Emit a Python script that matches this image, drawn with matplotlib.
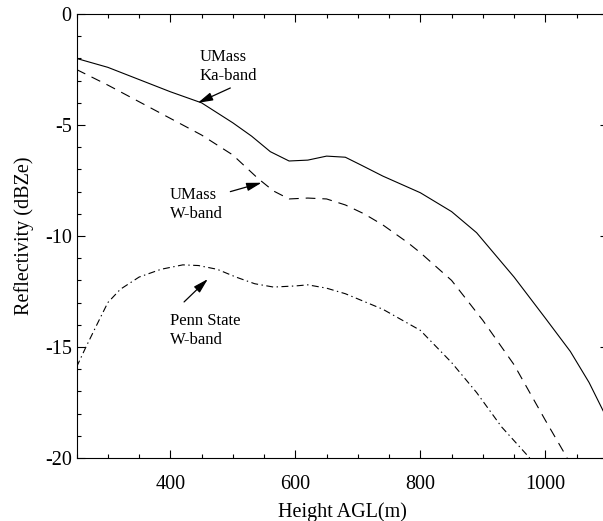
import matplotlib
matplotlib.use("Agg")
import matplotlib.pyplot as plt
from matplotlib.ticker import MultipleLocator

plt.rcParams['font.family'] = ['Liberation Serif', 'DejaVu Serif']
plt.rcParams['axes.unicode_minus'] = False
plt.rcParams['lines.scale_dashes'] = False

# UMass Ka-band (solid)
ka_h = [250, 300, 350, 400, 450, 500, 530, 560, 590, 620, 650, 680, 705, 740,
        800, 850, 890, 950, 1000, 1040, 1070, 1100]
ka_z = [-2.0, -2.4, -2.95, -3.5, -4.0, -4.9, -5.5, -6.2, -6.62, -6.58, -6.4, -6.45,
        -6.8, -7.3, -8.05, -8.9, -9.85, -11.85, -13.7, -15.2, -16.6, -18.3]

# UMass W-band (dashed)
uw_h = [250, 300, 350, 400, 450, 500, 540, 565, 590, 620, 650, 680, 710, 740,
        780, 800, 850, 900, 950, 1000, 1035]
uw_z = [-2.5, -3.2, -3.95, -4.7, -5.45, -6.35, -7.4, -7.97, -8.33, -8.29, -8.33,
        -8.6, -9.0, -9.5, -10.3, -10.75, -12.0, -13.8, -15.8, -18.3, -20.0]

# Penn State W-band (dash-dot)
ps_h = [250, 265, 285, 300, 320, 350, 385, 420, 445, 475, 505, 535, 565, 600,
        620, 650, 680, 740, 800, 850, 890, 930, 975]
ps_z = [-15.9, -15.0, -13.85, -13.0, -12.4, -11.85, -11.5, -11.3, -11.33, -11.5,
        -11.85, -12.15, -12.3, -12.25, -12.2, -12.35, -12.6, -13.3, -14.25, -15.7,
        -17.05, -18.6, -20.0]

fig = plt.figure(figsize=(6.03, 5.21), dpi=100)
ax = fig.add_axes([0.127, 0.121, 0.881, 0.852])

ax.plot(ka_h, ka_z, color='black', lw=0.8)
ax.plot(uw_h, uw_z, color='black', lw=0.8, ls=(0, (7, 5)))
ax.plot(ps_h, ps_z, color='black', lw=0.8, ls=(0, (5, 2.5, 1, 2.5)))

arrow = dict(arrowstyle='-|>,head_length=0.9,head_width=0.25', color='black',
             lw=0.9, shrinkA=0, shrinkB=0)
ax.annotate('', xy=(444, -4.0), xytext=(496, -3.33), arrowprops=arrow)
ax.text(447, -2.35, 'UMass\nKa-band', fontsize=12, ha='left', va='center',
        linespacing=1.25)
ax.annotate('', xy=(546, -7.6), xytext=(496, -8.0), arrowprops=arrow)
ax.text(399, -8.6, 'UMass\nW-band', fontsize=12, ha='left', va='center',
        linespacing=1.25)
ax.annotate('', xy=(460, -11.94), xytext=(422, -12.97), arrowprops=arrow)
ax.text(399, -14.25, 'Penn State\nW-band', fontsize=12, ha='left', va='center',
        linespacing=1.25)

ax.set_xlim(250, 1100)
ax.set_ylim(-20, 0)
ax.xaxis.set_major_locator(MultipleLocator(200))
ax.xaxis.set_minor_locator(MultipleLocator(50))
ax.yaxis.set_major_locator(MultipleLocator(5))
ax.yaxis.set_minor_locator(MultipleLocator(1))
ax.tick_params(which='both', direction='in', top=True, right=True, labelsize=14.5)
ax.tick_params(which='major', length=6, width=0.8)
ax.tick_params(which='minor', length=3, width=0.8)
ax.tick_params(axis='x', which='major', pad=12)
for s in ax.spines.values():
    s.set_linewidth(0.8)

ax.set_xlabel('Height AGL(m)', fontsize=14.5, labelpad=6)
ax.set_ylabel('Reflectivity (dBZe)', fontsize=14.5, labelpad=8)

fig.savefig('out.png', dpi=100)
